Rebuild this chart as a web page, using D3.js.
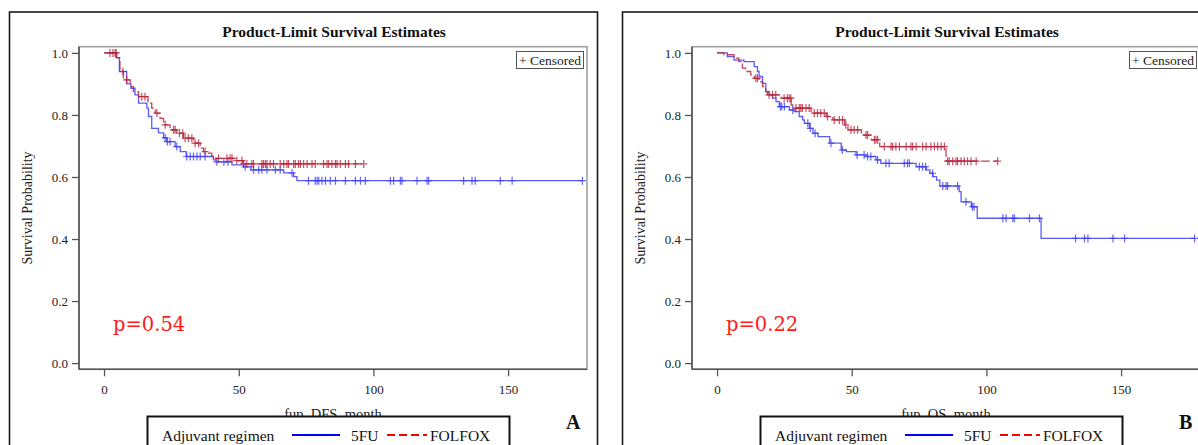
<!DOCTYPE html>
<html>
<head>
<meta charset="utf-8">
<script src="https://cdn.jsdelivr.net/npm/d3@7"></script>
<style>
html,body{margin:0;padding:0;background:#fff;}
svg{display:block;}
</style>
</head>
<body>
<svg id="chart" width="1198" height="445" font-family="Liberation Serif, Times New Roman, serif"></svg>
<script>
// ---------- data ----------
const xTicks = [0, 50, 100, 150];
const yTicks = [0.0, 0.2, 0.4, 0.6, 0.8, 1.0];
const groups = ["5FU", "FOLFOX"];
const panelLabels = ["A", "B"];
const xTitles = ["fup_DFS_month", "fup_OS_month"];
const pValues = ["p=0.54", "p=0.22"];

// Panel A (DFS) — 5FU
const a5fuTime = [0, 4.5, 5.7, 8.4, 10, 11.5, 12.8, 15.9, 16.5, 17.7, 20.2, 22.1, 23.3, 26.4, 28.3, 30.5, 40.6, 41.6, 47.5, 51.8, 54.5, 66.7, 70.4, 71.6];
const a5fuSurv = [1.0, 0.985, 0.94, 0.90, 0.886, 0.865, 0.838, 0.822, 0.795, 0.757, 0.742, 0.726, 0.714, 0.698, 0.682, 0.666, 0.655, 0.649, 0.639, 0.633, 0.623, 0.613, 0.601, 0.588];
const a5fuCens = [22.7, 23.5, 24.5, 27, 30.7, 32, 33.2, 34.5, 35.7, 37.5, 41.9, 44.5, 46, 52.4, 55.5, 57.4, 58.6, 60.5, 63.6, 65.4, 69.8, 75.9, 78.4, 79.1, 79.7, 80.9, 82.2, 84.0, 85.9, 89.6, 93.3, 95.2, 97.0, 106.3, 107.5, 110.0, 110.6, 116.2, 119.9, 120.5, 133.5, 136.6, 137.8, 147.1, 151.5, 177.6];
// Panel A (DFS) — FOLFOX
const aFolTime = [0, 4.7, 5.9, 7.2, 9.7, 10.9, 12.8, 16.3, 17.7, 19.0, 20.8, 22.1, 24.5, 27.0, 29.5, 33.2, 35.7, 36.9, 38.2, 40.0, 41.3, 49.0, 51.5];
const aFolSurv = [1.0, 0.984, 0.94, 0.913, 0.891, 0.875, 0.859, 0.838, 0.822, 0.806, 0.789, 0.768, 0.752, 0.741, 0.725, 0.709, 0.693, 0.682, 0.677, 0.666, 0.66, 0.653, 0.642];
const aFolCens = [2.2, 3.3, 4.1, 4.5, 7.0, 8.4, 14, 15.2, 19.6, 22.7, 25.8, 26.4, 28, 29.2, 30.1, 31.3, 32.6, 33.8, 35.1, 37.5, 42.5, 45.6, 46.8, 47.5, 49.3, 51.2, 51.8, 53.0, 54.9, 55.5, 58.6, 59.2, 59.9, 60.5, 61.7, 62.9, 65.4, 66.7, 67.9, 68.5, 70.4, 71.0, 72.2, 72.9, 74.1, 75.4, 77.2, 78.4, 81.5, 82.8, 83.4, 84.6, 85.9, 86.5, 87.7, 89.6, 90.8, 93.3, 96.4];

// Panel B (OS) — 5FU
const b5fuTime = [0, 3.8, 6.3, 10, 13.8, 15, 15.6, 16.9, 18.1, 19.3, 20.6, 21.9, 23.1, 26.8, 28.7, 30.5, 31.8, 32.4, 34.3, 35.6, 37.5, 41.8, 46.1, 48, 51.6, 55.3, 59, 60.8, 73.9, 77.7, 79, 80.2, 81.5, 82.7, 89.9, 90.6, 94.4, 96.6, 120.3];
const b5fuSurv = [1.0, 0.988, 0.977, 0.972, 0.956, 0.94, 0.924, 0.902, 0.875, 0.865, 0.854, 0.843, 0.827, 0.816, 0.811, 0.795, 0.784, 0.773, 0.757, 0.741, 0.73, 0.709, 0.687, 0.682, 0.671, 0.666, 0.655, 0.644, 0.633, 0.623, 0.612, 0.601, 0.59, 0.571, 0.553, 0.52, 0.504, 0.467, 0.402];
const b5fuCens = [23.5, 24.0, 25.0, 28.1, 33.7, 34.6, 36.4, 42.3, 46.5, 52.0, 54.6, 55.9, 57.1, 59.6, 62.7, 63.9, 69.5, 70.7, 71.4, 75.1, 76.3, 77.4, 80.0, 83.8, 85.0, 85.6, 89.3, 92.4, 94.8, 95.4, 106.1, 107.3, 109.8, 110.4, 116.0, 119.7, 133.1, 136.4, 137.7, 147.0, 151.3, 177.3];
// Panel B (OS) — FOLFOX
const bFolTime = [0, 2.6, 6.3, 8.1, 9.4, 10.6, 12.5, 13.8, 15.6, 16.9, 18.1, 18.7, 23.8, 27.5, 28.1, 34.9, 40.5, 43, 47.4, 48.6, 53.6, 57.3, 60.4, 85];
const bFolSurv = [1.0, 0.994, 0.983, 0.972, 0.951, 0.94, 0.929, 0.918, 0.907, 0.891, 0.875, 0.865, 0.854, 0.832, 0.822, 0.806, 0.795, 0.784, 0.768, 0.752, 0.735, 0.72, 0.698, 0.651];
const bFolCens = [14.4, 15.0, 19.3, 20.6, 21.8, 24.9, 26.1, 26.8, 27.4, 29.3, 30.5, 31.1, 31.7, 33.0, 34.2, 36.1, 37.3, 38.5, 39.8, 41.0, 43.5, 45.4, 46.6, 47.8, 49.7, 50.9, 52.2, 55.3, 55.9, 58.4, 59.0, 59.6, 62.1, 64.6, 65.2, 66.4, 67.7, 70.2, 72.0, 72.6, 73.9, 76.3, 77.6, 79.4, 80.7, 81.9, 83.2, 84.4, 85.6, 86.2, 87.5, 88.7, 89.3, 90.6, 91.8, 93.0, 94.3, 96.2, 104.2];

// ---------- drawing ----------
const svg = d3.select("#chart");
const plotColors = {"5FU": "#4040f0", "FOLFOX": "#b8243c"};
const legendColors = {"5FU": "#0000ff", "FOLFOX": "#ff0000"};

const panels = [
  {off: 0, series: [
    {g: "5FU", t: a5fuTime, s: a5fuSurv, c: a5fuCens},
    {g: "FOLFOX", t: aFolTime, s: aFolSurv, c: aFolCens}]},
  {off: 613, series: [
    {g: "5FU", t: b5fuTime, s: b5fuSurv, c: b5fuCens},
    {g: "FOLFOX", t: bFolTime, s: bFolSurv, c: bFolCens}]}
];

const L = 79, R = 587, T = 46.7, B = 369.3;

panels.forEach((p, pi) => {
  const g = svg.append("g").attr("transform", `translate(${p.off},0)`);

  // outer frame
  g.append("rect").attr("x", 9.5).attr("y", 12).attr("width", 588).attr("height", 460)
    .attr("fill", "none").attr("stroke", "#1a1a1a").attr("stroke-width", 1.6);

  // title
  g.append("text").attr("x", 334).attr("y", 36.5).attr("text-anchor", "middle")
    .attr("font-size", 15.5).attr("font-weight", "bold").attr("fill", "#111")
    .text("Product-Limit Survival Estimates");

  const x = d3.scaleLinear().domain([-9.3, 179.3]).range([L, R]);
  const y = d3.scaleLinear().domain([-0.02, 1.02]).range([B, T]);

  // plot wall frame
  g.append("rect").attr("x", L).attr("y", T).attr("width", R - L).attr("height", B - T)
    .attr("fill", "#fff").attr("stroke", "#a0a0a0").attr("stroke-width", 1.6);

  // axes
  const yAxis = d3.axisLeft(y).tickValues(yTicks).tickFormat(d3.format(".1f")).tickSize(7).tickPadding(4);
  const ya = g.append("g").attr("transform", `translate(${L},0)`).call(yAxis);
  const xAxis = d3.axisBottom(x).tickValues(xTicks).tickFormat(d3.format("d")).tickSize(7).tickPadding(8);
  const xa = g.append("g").attr("transform", `translate(0,${B})`).call(xAxis);
  [ya, xa].forEach(a => {
    a.attr("font-family", null).attr("font-size", null);
    a.select(".domain").attr("stroke", "#555").attr("stroke-width", 1.6);
    a.selectAll(".tick line").attr("stroke", "#555").attr("stroke-width", 1.3);
    a.selectAll(".tick text").attr("font-size", 13).attr("fill", "#222");
  });
  ya.select(".domain").attr("d", `M0,${T}V${B}`);
  xa.select(".domain").attr("d", `M${L},0H${R}`);

  // axis titles
  g.append("text").attr("transform", `translate(32,${(T + B) / 2}) rotate(-90)`)
    .attr("text-anchor", "middle").attr("font-size", 14).attr("fill", "#222")
    .text("Survival Probability");
  g.append("text").attr("x", (L + R) / 2).attr("y", 419).attr("text-anchor", "middle")
    .attr("font-size", 14.5).attr("fill", "#222").text(xTitles[pi]);

  // curves
  p.series.forEach(sr => {
    const tEnd = Math.max(sr.t[sr.t.length - 1], d3.max(sr.c));
    const pts = sr.t.map((t, i) => [t, sr.s[i]]);
    pts.push([tEnd, sr.s[sr.s.length - 1]]);
    const line = d3.line().x(d => x(d[0])).y(d => y(d[1])).curve(d3.curveStepAfter);
    g.append("path").attr("d", line(pts)).attr("fill", "none")
      .attr("stroke", plotColors[sr.g]).attr("stroke-width", 1.3)
      .attr("stroke-opacity", 0.85)
      .attr("stroke-dasharray", sr.g === "FOLFOX" ? "9,3" : null);
    const survAt = t => sr.s[Math.max(0, d3.bisectRight(sr.t, t) - 1)];
    g.append("g").selectAll("path").data(sr.c).join("path")
      .attr("d", t => {
        const cx = x(t), cy = y(survAt(t));
        return `M${cx - 3.5},${cy}H${cx + 3.5}M${cx},${cy - 4}V${cy + 4}`;
      })
      .attr("stroke", plotColors[sr.g]).attr("stroke-width", 1.2)
      .attr("stroke-opacity", 0.8).attr("fill", "none");
  });

  // censored legend
  g.append("rect").attr("x", 516.5).attr("y", 51.5).attr("width", 67).attr("height", 17)
    .attr("fill", "#fff").attr("stroke", "#555").attr("stroke-width", 1);
  g.append("text").attr("x", 519).attr("y", 64.5).attr("font-size", 13.5).attr("fill", "#222")
    .text("+ Censored");

  // p-value
  g.append("text").attr("x", 113).attr("y", 331).attr("font-size", 19.5)
    .attr("font-family", "DejaVu Serif, serif")
    .attr("fill", "#ff1a1a").text(pValues[pi]);

  // group legend
  g.append("rect").attr("x", 147.5).attr("y", 416.5).attr("width", 362).attr("height", 60)
    .attr("fill", "#fff").attr("stroke", "#111").attr("stroke-width", 2);
  g.append("text").attr("x", 162).attr("y", 440.5).attr("font-size", 15.5).attr("fill", "#111")
    .text("Adjuvant regimen");
  const legX = [292, 387];
  const legTextX = [351, 430];
  groups.forEach((grp, i) => {
    g.append("line").attr("x1", legX[i]).attr("x2", legX[i] + (i === 0 ? 48 : 40))
      .attr("y1", 435).attr("y2", 435)
      .attr("stroke", legendColors[grp]).attr("stroke-width", 2)
      .attr("stroke-dasharray", grp === "FOLFOX" ? "8,4" : null);
    g.append("text").attr("x", legTextX[i]).attr("y", 440.5).attr("font-size", 15.5).attr("fill", "#111")
      .text(grp);
  });

  // panel label
  g.append("text").attr("x", 566).attr("y", 429).attr("font-size", 20).attr("font-weight", "bold")
    .attr("fill", "#111").text(panelLabels[pi]);
});
</script>
</body>
</html>
